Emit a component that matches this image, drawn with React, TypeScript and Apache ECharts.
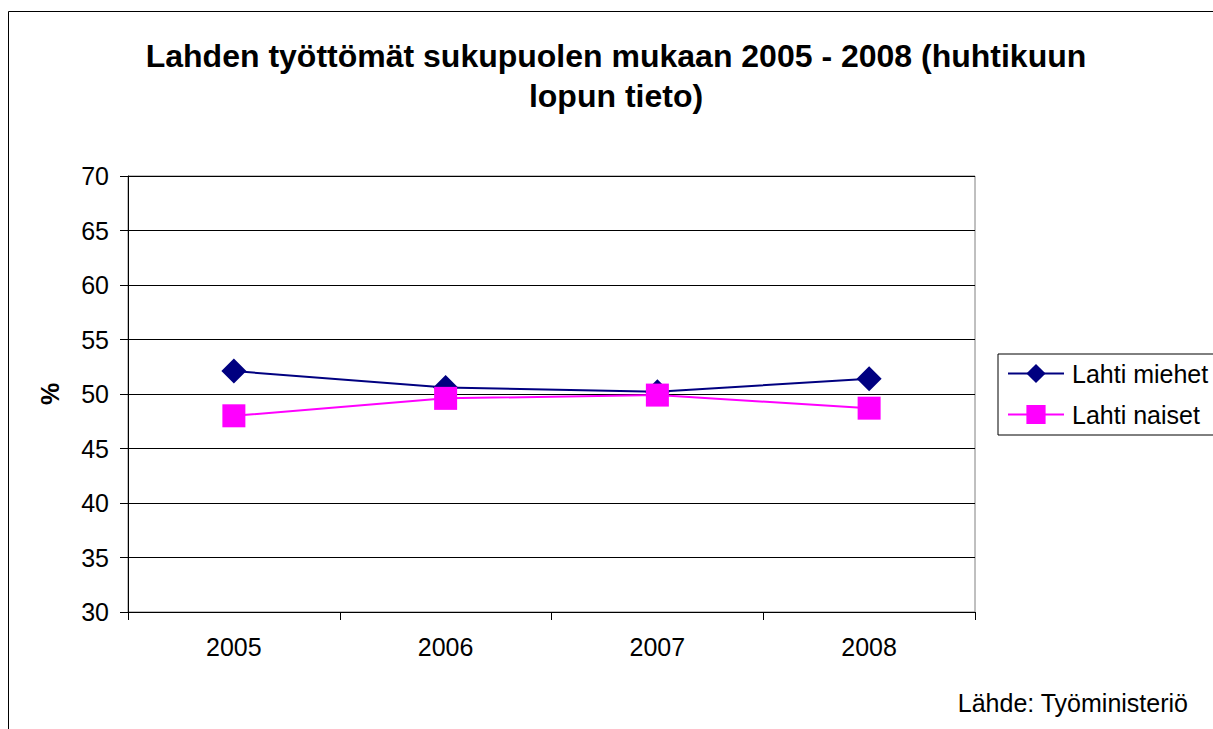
import React, { useEffect, useRef } from "react";
import * as echarts from "echarts";

const categories = ["2005", "2006", "2007", "2008"];
const miehet = [52.1, 50.6, 50.2, 51.4];
const naiset = [48.0, 49.6, 49.9, 48.7];
const titleText = "Lahden työttömät sukupuolen mukaan 2005 - 2008 (huhtikuun\nlopun tieto)";
const sourceText = "Lähde: Työministeriö";
const FONT = "'Liberation Sans', Arial, sans-serif";

export default function App() {
  const ref = useRef<HTMLDivElement>(null);
  useEffect(() => {
    if (!ref.current) return;
    const chart = echarts.init(ref.current, null, { renderer: "svg" });
    chart.setOption({
      animation: false,
      backgroundColor: "#fff",
      textStyle: { fontFamily: FONT, color: "#000" },
      title: {
        text: titleText,
        left: 616,
        top: 36,
        padding: 0,
        textAlign: "center",
        textStyle: { fontFamily: FONT, fontSize: 32, fontWeight: "bold", color: "#000", lineHeight: 40 },
      },
      graphic: [
        {
          type: "rect",
          shape: { x: 8.5, y: 11.5, width: 1300, height: 800 },
          style: { fill: "none", stroke: "#000", lineWidth: 1 },
          silent: true,
        },
        {
          type: "text",
          x: 1188,
          y: 703,
          style: {
            text: sourceText,
            fontFamily: FONT,
            fontSize: 25,
            fill: "#000",
            align: "right",
            verticalAlign: "middle",
          },
        },
      ],
      legend: {
        orient: "vertical",
        left: 998,
        top: 354,
        padding: [7, 40, 8, 9],
        itemWidth: 56,
        itemHeight: 24,
        itemGap: 16,
        borderColor: "#000",
        borderWidth: 1,
        textStyle: { fontFamily: FONT, fontSize: 25, color: "#000", padding: [0, 0, 0, 3] },
        data: ["Lahti miehet", "Lahti naiset"],
      },
      grid: {
        left: 128,
        right: 238,
        top: 176,
        bottom: 117,
        show: true,
        borderColor: "#808080",
        borderWidth: 1,
        backgroundColor: "transparent",
      },
      xAxis: {
        type: "category",
        data: categories,
        boundaryGap: true,
        axisLine: { lineStyle: { color: "#000", width: 1 } },
        axisTick: { show: true, length: 8, inside: false, alignWithLabel: false, lineStyle: { color: "#000" } },
        axisLabel: { fontFamily: FONT, fontSize: 25, color: "#000", margin: 22 },
        splitLine: { show: false },
      },
      yAxis: {
        type: "value",
        min: 30,
        max: 70,
        interval: 5,
        name: "%",
        nameLocation: "middle",
        nameGap: 66,
        nameTextStyle: { fontFamily: FONT, fontSize: 25, fontWeight: "bold", color: "#000" },
        axisLine: { show: true, lineStyle: { color: "#000", width: 1 } },
        axisTick: { show: true, length: 8, lineStyle: { color: "#000" } },
        axisLabel: { fontFamily: FONT, fontSize: 25, color: "#000", margin: 19 },
        splitLine: { show: true, lineStyle: { color: "#000", width: 1 } },
      },
      series: [
        {
          name: "Lahti miehet",
          type: "line",
          data: miehet,
          symbol: "diamond",
          symbolSize: 25,
          itemStyle: { color: "#000080" },
          lineStyle: { color: "#000080", width: 2 },
          z: 2,
        },
        {
          name: "Lahti naiset",
          type: "line",
          data: naiset,
          symbol: "rect",
          symbolSize: 23,
          itemStyle: { color: "#FF00FF" },
          lineStyle: { color: "#FF00FF", width: 2 },
          z: 3,
        },
      ],
    });
    return () => chart.dispose();
  }, []);
  return (
    <div
      ref={ref}
      style={{ position: "absolute", left: 0, top: 0, width: 1213, height: 729, background: "#fff" }}
    />
  );
}
